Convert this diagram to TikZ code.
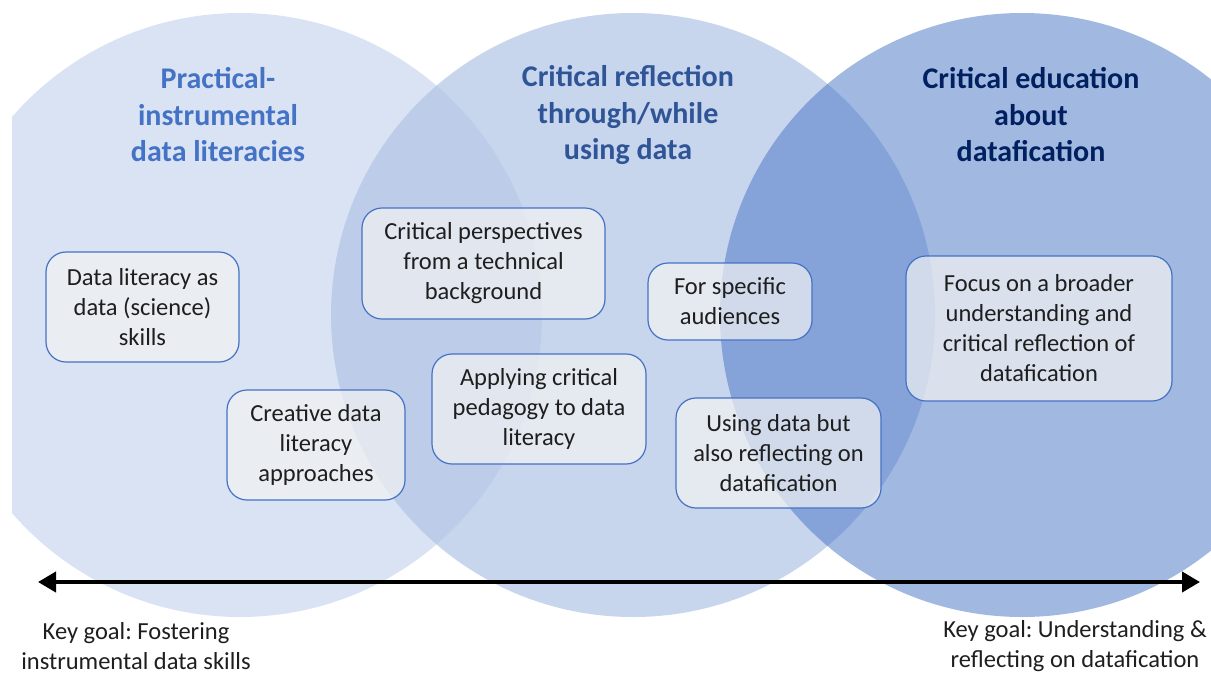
\documentclass[tikz,border=0pt]{standalone}
\usepackage{fontspec}
\setmainfont{Carlito}
\usepackage{tikz}
\usetikzlibrary{arrows.meta}
\definecolor{accent}{HTML}{4472C4}
\definecolor{midblue}{HTML}{2F5597}
\definecolor{navy}{HTML}{002060}
\definecolor{midfill}{HTML}{B4C7E7}
\definecolor{boxfill}{HTML}{F2F2F2}
\definecolor{bodytext}{HTML}{1E1E1E}
\frenchspacing

\begin{document}
\begin{tikzpicture}[x=1pt,y=-1pt,
  box/.style={draw=accent, line width=1.2pt, fill=boxfill, fill opacity=0.7, text opacity=1, rounded corners=20pt, align=center, text=bodytext, font=\fontsize{24.5}{30}\selectfont, inner sep=4pt, minimum height=110pt},
  heading/.style={align=center, font=\bfseries\fontsize{30}{36.5}\selectfont},
  goal/.style={align=center, text=bodytext, inner sep=1pt, font=\fontsize{24.5}{29.5}\selectfont}]
  \useasboundingbox (0,0) rectangle (1211,673);
  \begin{scope}
    \clip (12,0) rectangle (1211,673);
    \fill[accent, fill opacity=0.2] (240,315) circle [radius=302pt];
    \fill[midfill, fill opacity=0.75] (633,315) circle [radius=302pt];
    \fill[accent, fill opacity=0.5] (1022,315) circle [radius=302pt];
  \end{scope}
  \node[heading, text=accent] (Practical) at (218,115) {Practical-\\ instrumental\\ data literacies};
  \node[heading, text=midblue] (Reflection) at (628,115) {Critical reflection\\ through/while\\ using data};
  \node[heading, text=navy] (Education) at (1031,115) {Critical education\\ about\\ datafication};
  \node[box, minimum width=193pt] (DataSkills) at (142.5,307) {Data literacy as\\ data (science)\\ skills};
  \node[box, minimum width=178pt] (Creative) at (316,445) {Creative data\\ literacy\\ approaches};
  \node[box, minimum width=243pt, minimum height=111pt] (Technical) at (483.5,263.5) {Critical perspectives\\ from a technical\\ background};
  \node[box, minimum width=214pt] (Pedagogy) at (539,409) {Applying critical\\ pedagogy to data\\ literacy};
  \node[box, minimum width=164pt, minimum height=77pt] (Audiences) at (730,301.5) {For specific\\ audiences};
  \node[box, minimum width=205pt] (UsingData) at (778.5,453) {Using data but\\ also reflecting on\\ datafication};
  \node[box, minimum width=266pt, minimum height=145pt] (Broader) at (1039,328.5) {Focus on a broader\\ understanding and\\ critical reflection of\\ datafication};
  \coordinate (AxisL) at (38,582);
  \coordinate (AxisR) at (1200,582);
  \draw[line width=4pt, {Triangle[length=18pt,width=20pt]}-{Triangle[length=18pt,width=20pt]}] (AxisL) -- (AxisR);
  \node[goal] (GoalL) at (136,646) {Key goal: Fostering\\ instrumental data skills};
  \node[goal] (GoalR) at (1075,646) {Key goal: Understanding \&\\ reflecting on datafication};
\end{tikzpicture}
\end{document}
